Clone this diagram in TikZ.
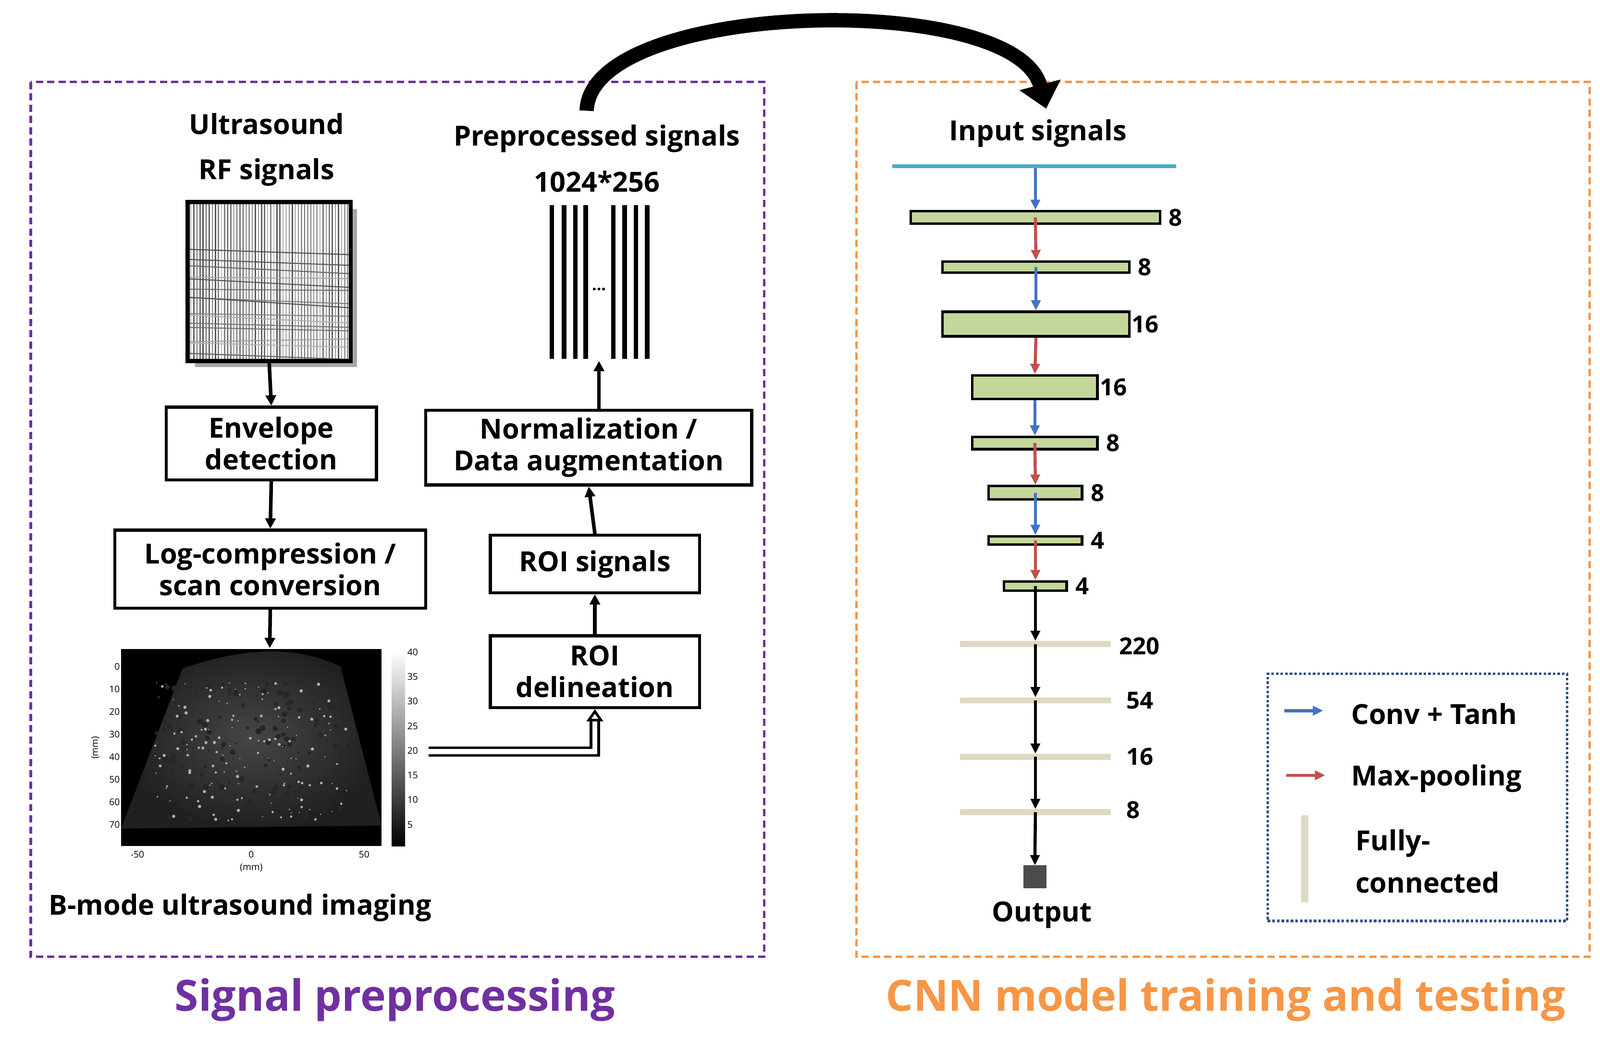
\documentclass[tikz,border=0pt]{standalone}
\usepackage{fontspec}
\setmainfont{Open Sans}
\usetikzlibrary{arrows.meta,calc}
\definecolor{purp}{RGB}{112,48,160}
\definecolor{orng}{RGB}{247,150,70}
\definecolor{cyanl}{RGB}{75,172,198}
\definecolor{bluea}{RGB}{68,114,196}
\definecolor{reda}{RGB}{192,80,77}
\definecolor{grn}{RGB}{196,215,155}
\definecolor{tan}{RGB}{221,217,195}
\begin{document}
\begin{tikzpicture}[x=1pt,y=-1pt,
  box/.style={draw,line width=3pt,font=\bfseries\fontsize{27}{31}\selectfont,align=center,inner sep=0pt},
  lbl/.style={font=\bfseries\fontsize{27}{44}\selectfont,align=center},
  num/.style={font=\bfseries\fontsize{23}{24}\selectfont,anchor=west,inner sep=1pt},
  ar/.style={-{Triangle[length=10pt,width=10pt]},line width=3.5pt},
  carr/.style={-{Triangle[length=10pt,width=9pt]},line width=3pt},
  layer/.style={draw,line width=2.5pt,fill=grn},
  fc/.style={line width=6pt,draw=tan}]
\useasboundingbox (0,0) rectangle (1560,1016);
% frames
\draw[purp,line width=2.5pt,dash pattern=on 7pt off 4pt] (30,80) rectangle (745,933);
\draw[orng,line width=2.5pt,dash pattern=on 7pt off 4pt] (835,80) rectangle (1550,933);
\node[font=\bfseries\fontsize{42}{44}\selectfont,text=purp] (t1) at (385,975) {Signal preprocessing};
\node[font=\bfseries\fontsize{42}{44}\selectfont,text=orng] (t2) at (1195,975) {CNN model training and testing};
% big curved arrow
\coordinate (ca) at (572,108);
\coordinate (cb) at (1020,106);
\draw[line width=14pt,-{Triangle[length=24pt,width=40pt]}] (ca) .. controls (575,0) and (990,-10) .. (cb);
% left
\node[lbl] (us) at (260,146) {Ultrasound\\RF signals};
\fill[gray!70] (190,204) rectangle (348,358);
\fill[white] (183,197) rectangle (342,352);
\foreach \i in {0,...,52}{\pgfmathsetmacro{\g}{25+45*rnd}\draw[black!\g,line width=1.2pt] (186+\i*3,199) -- (186+\i*3,350);}
\foreach \i in {0,...,14}{\pgfmathsetmacro{\g}{30+40*rnd}\draw[black!\g,line width=1pt] (185,240+\i*7+10*rnd) -- (340,245+\i*7+10*rnd);}
\node[draw,line width=4pt,minimum width=159pt,minimum height=155pt] (rf) at (262.5,274.5) {};
\node[box,minimum width=205pt,minimum height=71pt] (env) at (264.5,432.5) {Envelope\\detection};
\node[box,minimum width=303pt,minimum height=76pt] (log) at (263.5,555) {Log-compression /\\scan conversion};
% B-mode image
\fill[black] (118,633) rectangle (372,825);
\shade[inner color=gray!55!black,outer color=gray!25!black] (178,652) .. controls (240,630) and (290,630) .. (332,650) -- (372,805) -- (118,808) -- cycle;
\foreach \i in {1,...,150}{\pgfmathsetmacro{\xx}{150+190*rnd}\pgfmathsetmacro{\yy}{665+135*rnd}\fill[black!85] (\xx,\yy) circle (1+2*rnd);}
\foreach \i in {1,...,150}{\pgfmathsetmacro{\xx}{150+190*rnd}\pgfmathsetmacro{\yy}{665+135*rnd}\fill[gray!60] (\xx,\yy) circle (0.6+1*rnd);}
\node[draw=none,minimum width=254pt,minimum height=192pt] (bm) at (245,729) {};
\shade[top color=white,bottom color=black] (382,635) rectangle (395,825);
\foreach \v/\y in {40/636,35/660,30/684,25/708,20/732,15/756,10/780,5/804}{\node[font=\fontsize{9}{9}\selectfont,anchor=west,inner sep=0pt] at (397,\y) {\v};}
\foreach \v/\y in {0/650,10/672,20/694,30/716,40/738,50/760,60/782,70/804}{\node[font=\fontsize{9}{9}\selectfont,anchor=east,inner sep=0pt] at (117,\y) {\v};}
\foreach \v/\x in {-50/134,0/245,50/355}{\node[font=\fontsize{9}{9}\selectfont,inner sep=0pt] at (\x,833) {\v};}
\node[font=\fontsize{9}{9}\selectfont,inner sep=0pt] at (245,846) {(mm)};
\node[font=\fontsize{9}{9}\selectfont,inner sep=0pt,rotate=90] at (93,729) {(mm)};
\node[lbl,anchor=west] (bl) at (44,885) {B-mode ultrasound imaging};
\node[box,minimum width=204pt,minimum height=70pt] (roid) at (580,655) {ROI\\delineation};
\node[box,minimum width=204pt,minimum height=56pt] (rois) at (580,550) {ROI signals};
\node[box,minimum width=318pt,minimum height=73pt] (norm) at (574,436.5) {Normalization /\\Data augmentation};
\node[lbl] (pp) at (582,135) {Preprocessed signals};
\node[lbl] (dim) at (582,177) {1024*256};
\foreach \x in {538,550,561,571,598,609,620,631}{\draw[line width=4.5pt] (\x,200) -- (\x,350);}
\node[font=\bfseries\fontsize{16}{16}\selectfont] at (584,282) {...};
\coordinate (sigb) at (584,352);
\draw[ar] (rf.south) -- (env.north);
\draw[ar] (env.south) -- (log.north);
\draw[ar] (log.south) -- (263,632);
\draw[ar] (rois.north) -- (norm.south);
\draw[ar] (roid.north) -- (rois.south);
\draw[ar] (norm.north -| sigb) -- (sigb);
\coordinate (dd) at (418,733);
\draw[double,double distance=5pt,line width=2.5pt,-{Triangle[open,length=12pt,width=16pt,line width=2.5pt]}] (dd) -- (580,733) -- (roid.south);
% right CNN
\node[lbl] (in) at (1012,130) {Input signals};
\draw[cyanl,line width=4pt] (870,162) -- coordinate (cl) (1147,162);
\node[layer,minimum width=243pt,minimum height=12pt,inner sep=0pt] (l1) at (1009.5,212) {};
\node[layer,minimum width=182pt,minimum height=11pt,inner sep=0pt] (l2) at (1010,260.5) {};
\node[layer,minimum width=182pt,minimum height=24pt,inner sep=0pt] (l3) at (1010,316) {};
\node[layer,minimum width=122pt,minimum height=23pt,inner sep=0pt] (l4) at (1009,377.5) {};
\node[layer,minimum width=122pt,minimum height=12pt,inner sep=0pt] (l5) at (1009,432) {};
\node[layer,minimum width=91pt,minimum height=13pt,inner sep=0pt] (l6) at (1009.5,480.5) {};
\node[layer,minimum width=91pt,minimum height=8pt,inner sep=0pt] (l7) at (1009.5,527) {};
\node[layer,minimum width=61pt,minimum height=9pt,inner sep=0pt] (l8) at (1009.5,571.5) {};
\node[num] at (l1.east) {~8};
\node[num] at (l2.east) {~8};
\node[num] at (l3.east) {16};
\node[num] at (l4.east) {16};
\node[num] at (l5.east) {~8};
\node[num] at (l6.east) {~8};
\node[num] at (l7.east) {~4};
\node[num] at (l8.east) {~4};
\foreach \n/\y in {f1/628,f2/683,f3/738,f4/792}{\coordinate (\n) at (1009.5,\y); \draw[fc] (936,\y) -- (1083,\y);}
\node[num] at (1090,630) {220};
\node[num] at (1097,683) {54};
\node[num] at (1097,738) {16};
\node[num] at (1097,790) {8};
\node[draw=gray!60!black,fill=gray!60!black,minimum size=22pt,inner sep=0pt] (out) at (1009,855) {};
\node[lbl] (ot) at (1016,892) {Output};
\draw[carr,bluea] (1009.5,164) -- (l1.north);
\draw[carr,reda] (l1.center) -- (l2.north);
\draw[carr,bluea] (l2.center) -- (l3.north);
\draw[carr,reda] (l3.south) -- (l4.north);
\draw[carr,bluea] (l4.south) -- (l5.north);
\draw[carr,reda] (l5.center) -- (l6.north);
\draw[carr,bluea] (l6.center) -- (l7.north);
\draw[carr,reda] (l7.center) -- (l8.north);
\draw[carr] (l8.center) -- ($(f1)+(0,-3)$);
\draw[carr] (f1) -- ($(f2)+(0,-3)$);
\draw[carr] (f2) -- ($(f3)+(0,-3)$);
\draw[carr] (f3) -- ($(f4)+(0,-3)$);
\draw[carr] (f4) -- (out.north);
% legend
\node[draw=bluea!70!black,line width=2.5pt,dotted,minimum width=292pt,minimum height=241pt] (leg) at (1382,777.5) {};
\coordinate (b1) at (1252,693); \coordinate (b2) at (1290,693);
\coordinate (r1) at (1254,756); \coordinate (r2) at (1292,756);
\draw[carr,bluea] (b1) -- (b2);
\draw[carr,reda] (r1) -- (r2);
\node[lbl,anchor=west] (lc) at (1314,696) {Conv + Tanh};
\node[lbl,anchor=west] (lm) at (1314,759) {Max-pooling};
\draw[line width=7pt,draw=tan] (1272,795) -- (1272,880);
\node[lbl,anchor=west,align=left,font=\bfseries\fontsize{27}{41}\selectfont] (lf) at (1318,840) {Fully-\\connected};
\end{tikzpicture}
\end{document}
